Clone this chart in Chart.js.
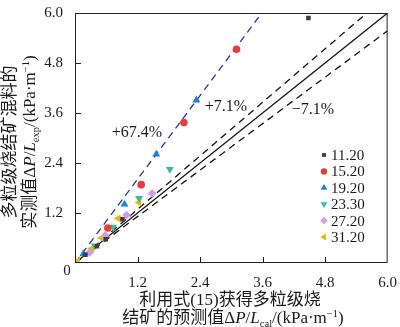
<!DOCTYPE html>
<html lang="zh">
<head>
    <meta charset="UTF-8">
    <title>预测值与实测值对比</title>
    <script src="https://cdn.jsdelivr.net/npm/chart.js"></script>
    <style>
        body { margin: 0; padding: 0; background: #ffffff; }
        .chart-box { width: 400px; height: 327px; position: relative; }
    </style>
</head>
<body>
    <div class="chart-box"><canvas id="parityChart"></canvas></div>

    <script>
        // tick values and labels (both axes share them)
        var tickValues = [0, 1.2, 2.4, 3.6, 4.8, 6.0];
        var tickLabels = ['0', '1.2', '2.4', '3.6', '4.8', '6.0'];

        // series (legend name = label)
        var seriesNames = ['11.20', '15.20', '19.20', '23.30', '27.20', '31.20'];

        var s1120X = [0.20, 0.42, 0.59, 0.91, 4.48];
        var s1120Y = [0.20, 0.40, 0.57, 1.05, 5.88];
        var s1520X = [0.63, 1.27, 2.09, 3.10];
        var s1520Y = [0.84, 1.88, 3.37, 5.13];
        var s1920X = [0.16, 0.95, 1.56, 2.33];
        var s1920Y = [0.22, 1.41, 2.61, 3.91];
        var s2330X = [0.38, 0.73, 1.23, 1.82];
        var s2330Y = [0.41, 0.86, 1.55, 2.25];
        var s2720X = [0.28, 0.58, 0.99, 1.48];
        var s2720Y = [0.25, 0.66, 1.15, 1.67];
        var s3120X = [0.05, 0.32, 0.51, 0.83, 1.23];
        var s3120Y = [0.05, 0.35, 0.60, 1.07, 1.45];

        // reference lines y = ratio * x
        var lineX = [0, 6];
        var lineRatios = [1, 1.071, 0.929, 1.674];
        var lineNotes = ['', '+7.1%', '\u22127.1%', '+67.4%'];

        var FONT = '"Liberation Serif", "Noto Sans CJK SC", serif';

        function pts(xs, ys) {
            return xs.map(function (v, i) { return { x: v, y: ys[i] }; });
        }

        var markers = [
            { style: 'rect', rot: 0, color: '#3d3d3d', r: 3.2 },
            { style: 'circle', rot: 0, color: '#e2403e', r: 3.8 },
            { style: 'triangle', rot: 0, color: '#1f80d8', r: 4.6 },
            { style: 'triangle', rot: 180, color: '#3dbf8e', r: 4.6 },
            { style: 'rectRot', rot: 0, color: '#cf9ee8', r: 4.4 },
            { style: 'triangle', rot: 270, color: '#e2b91d', r: 4.6 }
        ];

        var seriesData = [
            pts(s1120X, s1120Y), pts(s1520X, s1520Y), pts(s1920X, s1920Y),
            pts(s2330X, s2330Y), pts(s2720X, s2720Y), pts(s3120X, s3120Y)
        ];

        var datasets = [];
        seriesNames.forEach(function (name, i) {
            var m = markers[i];
            datasets.push({
                type: 'scatter',
                label: name,
                data: seriesData[i],
                pointStyle: m.style,
                rotation: m.rot,
                pointRadius: m.r,
                pointBackgroundColor: m.color,
                pointBorderColor: m.color,
                pointBorderWidth: 0,
                order: 0
            });
        });

        var lineStyles = [
            { color: '#111111', dash: [], width: 1.3 },
            { color: '#111111', dash: [7, 5], width: 1.3 },
            { color: '#111111', dash: [7, 5], width: 1.3 },
            { color: '#2b2fa6', dash: [7, 5], width: 1.3 }
        ];
        lineRatios.forEach(function (k, i) {
            datasets.push({
                type: 'line',
                label: 'ref' + i,
                data: lineX.map(function (v) { return { x: v, y: v * k }; }),
                borderColor: lineStyles[i].color,
                borderDash: lineStyles[i].dash,
                borderWidth: lineStyles[i].width,
                pointRadius: 0,
                fill: false,
                order: 1
            });
        });

        // text with italic / sub / sup parts
        function setFont(ctx, seg, size) {
            var s = (seg.sub || seg.sup) ? size * 0.62 : size;
            ctx.font = (seg.it ? 'italic ' : '') + s + 'px ' + FONT;
        }
        function drawRich(ctx, segs, cx, cy, size, rotate) {
            ctx.save();
            ctx.translate(cx, cy);
            if (rotate) ctx.rotate(-Math.PI / 2);
            ctx.textBaseline = 'alphabetic';
            ctx.textAlign = 'left';
            var w = 0;
            segs.forEach(function (s) { setFont(ctx, s, size); w += ctx.measureText(s.t).width; });
            var x = -w / 2;
            var base = size * 0.36;
            segs.forEach(function (s) {
                setFont(ctx, s, size);
                var dy = s.sub ? size * 0.25 : (s.sup ? -size * 0.38 : 0);
                ctx.fillText(s.t, x, base + dy);
                x += ctx.measureText(s.t).width;
            });
            ctx.restore();
        }

        var yTitle1 = [{ t: '多粒级烧结矿混料的' }];
        var yTitle2 = [{ t: '实测值Δ' }, { t: 'P', it: true }, { t: '/' }, { t: 'L', it: true },
                       { t: 'exp', sub: true }, { t: '/(kPa·m' }, { t: '\u22121', sup: true }, { t: ')' }];
        var xTitle1 = [{ t: '利用式(15)获得多粒级烧' }];
        var xTitle2 = [{ t: '结矿的预测值Δ' }, { t: 'P', it: true }, { t: '/' }, { t: 'L', it: true },
                       { t: 'cal', sub: true }, { t: '/(kPa·m' }, { t: '\u22121', sup: true }, { t: ')' }];

        var overlay = {
            id: 'overlay',
            afterDraw: function (chart) {
                var ctx = chart.ctx, a = chart.chartArea;
                var xs = chart.scales.x, ys = chart.scales.y;
                ctx.save();
                ctx.strokeStyle = '#222222';
                ctx.lineWidth = 1;
                ctx.setLineDash([]);
                ctx.strokeRect(a.left + 0.5, a.top + 0.5, a.right - a.left - 1, a.bottom - a.top - 1);

                // inward ticks
                ctx.beginPath();
                tickValues.forEach(function (v) {
                    if (v === 0 || v === 6) return;
                    var px = Math.round(xs.getPixelForValue(v)) + 0.5;
                    ctx.moveTo(px, a.bottom);
                    ctx.lineTo(px, a.bottom - 6);
                    var py = Math.round(ys.getPixelForValue(v)) + 0.5;
                    ctx.moveTo(a.left, py);
                    ctx.lineTo(a.left + 6, py);
                });
                ctx.stroke();

                ctx.fillStyle = '#1a1a1a';
                // shared origin label
                ctx.font = '15px ' + FONT;
                ctx.textAlign = 'center';
                ctx.textBaseline = 'middle';
                ctx.fillText(tickLabels[0], a.left - 8, a.bottom + 8);

                // line notes
                ctx.font = '16px ' + FONT;
                var notePos = [null, [226, 107], [313, 110], [137, 133]];
                lineNotes.forEach(function (t, i) {
                    if (!t) return;
                    ctx.fillText(t, notePos[i][0], notePos[i][1]);
                });

                // legend
                var lx = 324, ly = 155;
                seriesNames.forEach(function (name, i) {
                    var m = markers[i];
                    var yy = ly + i * 16.4;
                    ctx.fillStyle = m.color;
                    ctx.strokeStyle = m.color;
                    Chart.helpers.drawPoint(ctx, {
                        pointStyle: m.style, rotation: m.rot, radius: m.r * 0.85, borderWidth: 0
                    }, lx, yy);
                    ctx.fillStyle = '#1a1a1a';
                    ctx.font = '15px ' + FONT;
                    ctx.textAlign = 'left';
                    ctx.textBaseline = 'middle';
                    ctx.fillText(name, lx + 7, yy + 1);
                });

                // axis titles
                ctx.fillStyle = '#1a1a1a';
                drawRich(ctx, yTitle1, 9, 142, 17, true);
                drawRich(ctx, yTitle2, 29, 142, 17, true);
                drawRich(ctx, xTitle1, 230, 299, 17, false);
                drawRich(ctx, xTitle2, 233, 317, 17, false);
                ctx.restore();
            }
        };

        function axisTicks(scale) {
            scale.ticks = tickValues.map(function (v) { return { value: v }; });
        }
        function tickText(v) {
            var i = tickValues.indexOf(v);
            return i <= 0 ? '' : tickLabels[i];
        }

        var ctx = document.getElementById('parityChart').getContext('2d');
        new Chart(ctx, {
            type: 'scatter',
            data: { datasets: datasets },
            options: {
                responsive: true,
                maintainAspectRatio: false,
                animation: false,
                layout: { padding: { top: 8, right: 9, left: 0, bottom: 0 } },
                plugins: { legend: { display: false }, tooltip: { enabled: false } },
                scales: {
                    x: {
                        type: 'linear', min: 0, max: 6,
                        afterBuildTicks: axisTicks,
                        afterFit: function (s) { s.height = 64; },
                        grid: { display: false },
                        border: { display: false },
                        ticks: { callback: tickText, color: '#1a1a1a', font: { family: FONT, size: 15 }, padding: 3, maxRotation: 0 }
                    },
                    y: {
                        type: 'linear', min: 0, max: 6,
                        afterBuildTicks: axisTicks,
                        afterFit: function (s) { s.width = 75; },
                        grid: { display: false },
                        border: { display: false },
                        ticks: { callback: tickText, color: '#1a1a1a', font: { family: FONT, size: 15 }, padding: 4 }
                    }
                }
            },
            plugins: [overlay]
        });
    </script>
</body>
</html>
